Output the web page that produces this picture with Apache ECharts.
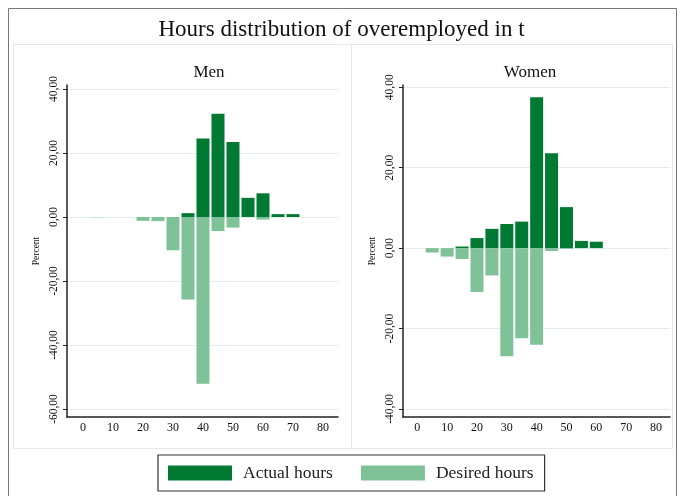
<!DOCTYPE html>
<html>
<head>
<meta charset="utf-8">
<script src="https://cdn.jsdelivr.net/npm/echarts@6/dist/echarts.min.js"></script>
<style>
html,body{margin:0;padding:0;background:#fff;}
#c{width:683px;height:496px;}
</style>
</head>
<body>
<div id="c"></div>
<script>
// ---- data ----
const hours = [0, 5, 10, 15, 20, 25, 30, 35, 40, 45, 50, 55, 60, 65, 70, 75, 80];
const menActual    = [0, 0, 0, 0, 0, 0, 0, 1.2, 24.5, 32.3, 23.4, 6.0, 7.4, 0.9, 0.9, 0, 0];
const menDesired   = [0, -0.1, 0, 0, -1.2, -1.3, -10.4, -25.8, -52.1, -4.4, -3.3, 0, -0.8, 0, 0, 0, 0];
const womenActual  = [0, 0, 0, 0.4, 2.5, 4.8, 6.0, 6.6, 37.5, 23.6, 10.2, 1.8, 1.6, 0, 0, 0, 0];
const womenDesired = [0, -1.1, -2.1, -2.7, -10.9, -6.8, -26.9, -22.4, -24.0, -0.7, -0.2, 0, 0, 0, 0, 0, 0];
const xTicks = [0, 10, 20, 30, 40, 50, 60, 70, 80];
const menYTicks = [-60, -40, -20, 0, 20, 40];
const womenYTicks = [-40, -20, 0, 20, 40];
const seriesNames = ['Actual hours', 'Desired hours'];
const panelTitles = ['Men', 'Women'];
const mainTitle = 'Hours distribution of overemployed in t';
const yName = 'Percent';

// ---- styling ----
const DARK = '#007a33';
const LIGHT = '#80c297';
const FONT = '"Liberation Serif", "DejaVu Serif", serif';
const GRIDC = '#e3edf0';

function pairs(arr) { return hours.map((h, i) => [h, arr[i]]); }
function fmt(v) { return v.toFixed(2).replace('.', ','); }

function xAxis(idx, min, max) {
  return {
    type: 'value', gridIndex: idx, min: min, max: max,
    axisLine: { show: true, onZero: false, lineStyle: { color: '#222', width: 1.5 } },
    axisTick: { show: false },
    splitLine: { show: false },
    axisLabel: {
      customValues: xTicks, margin: 5, color: '#111',
      fontFamily: FONT, fontSize: 12, formatter: v => String(v)
    }
  };
}
function yAxis(idx, min, max, ticks, nameGap) {
  return {
    type: 'value', gridIndex: idx, min: min, max: max,
    name: yName, nameLocation: 'middle', nameGap: nameGap, nameRotate: 90,
    nameTextStyle: { fontFamily: FONT, fontSize: 9.5, color: '#111' },
    axisLine: { show: true, onZero: false, lineStyle: { color: '#222', width: 1.5 } },
    axisTick: { show: true, customValues: ticks, length: 4, lineStyle: { color: '#222' } },
    splitLine: { show: false },
    axisLabel: {
      customValues: ticks, rotate: 90, margin: 7, color: '#111',
      fontFamily: FONT, fontSize: 11.5, formatter: v => fmt(v)
    }
  };
}
function gridLines(idx, ticks) {
  return {
    type: 'scatter', xAxisIndex: idx, yAxisIndex: idx, data: [], z: 0, silent: true,
    markLine: {
      z: 0, silent: true, symbol: 'none', label: { show: false },
      lineStyle: { color: GRIDC, type: 'solid', width: 1 },
      data: ticks.map(t => ({ yAxis: t }))
    }
  };
}
function bars(idx, name, arr, color) {
  return {
    type: 'bar', name: name, xAxisIndex: idx, yAxisIndex: idx,
    data: pairs(arr), barWidth: 13, barGap: '-100%', z: 3,
    itemStyle: { color: color }
  };
}

const chart = echarts.init(document.getElementById('c'), null, { renderer: 'canvas' });
chart.setOption({
  animation: false,
  backgroundColor: '#fff',
  title: [
    { text: mainTitle, left: 'center', top: 13,
      textStyle: { fontFamily: FONT, fontSize: 23, fontWeight: 'normal', color: '#111' } },
    { text: panelTitles[0], left: 204, top: 59, textAlign: 'center',
      textStyle: { fontFamily: FONT, fontSize: 17, fontWeight: 'normal', color: '#111' } },
    { text: panelTitles[1], left: 525, top: 59, textAlign: 'center',
      textStyle: { fontFamily: FONT, fontSize: 17, fontWeight: 'normal', color: '#111' } }
  ],
  legend: {
    data: seriesNames, left: 158, top: 455,
    itemWidth: 64, itemHeight: 15, itemGap: 28,
    padding: [9, 11, 9, 10],
    borderColor: '#333', borderWidth: 1.2,
    icon: 'rect',
    textStyle: { fontFamily: FONT, fontSize: 17.5, color: '#222', padding: [0, 0, 0, 6] }
  },
  graphic: [
    { type: 'rect', shape: { x: 8.5, y: 8.5, width: 668, height: 494 }, style: { fill: 'none', stroke: '#777', lineWidth: 1 }, silent: true, z: -1 },
    { type: 'rect', shape: { x: 13.5, y: 44.5, width: 338, height: 404 }, style: { fill: 'none', stroke: '#e0eaed', lineWidth: 1 }, silent: true, z: -1 },
    { type: 'rect', shape: { x: 351.5, y: 44.5, width: 321, height: 404 }, style: { fill: 'none', stroke: '#e0eaed', lineWidth: 1 }, silent: true, z: -1 }
  ],
  grid: [
    { left: 67, right: 345, top: 85, bottom: 79 },
    { left: 403, right: 13, top: 85, bottom: 79 }
  ],
  xAxis: [ xAxis(0, -5.33, 85), xAxis(1, -4.8, 84.7) ],
  yAxis: [ yAxis(0, -62.5, 41.25, menYTicks, 26), yAxis(1, -42, 40.57, womenYTicks, 26) ],
  series: [
    gridLines(0, menYTicks),
    gridLines(1, womenYTicks),
    bars(0, seriesNames[0], menActual, DARK),
    bars(0, seriesNames[1], menDesired, LIGHT),
    bars(1, seriesNames[0], womenActual, DARK),
    bars(1, seriesNames[1], womenDesired, LIGHT)
  ]
});
</script>
</body>
</html>
